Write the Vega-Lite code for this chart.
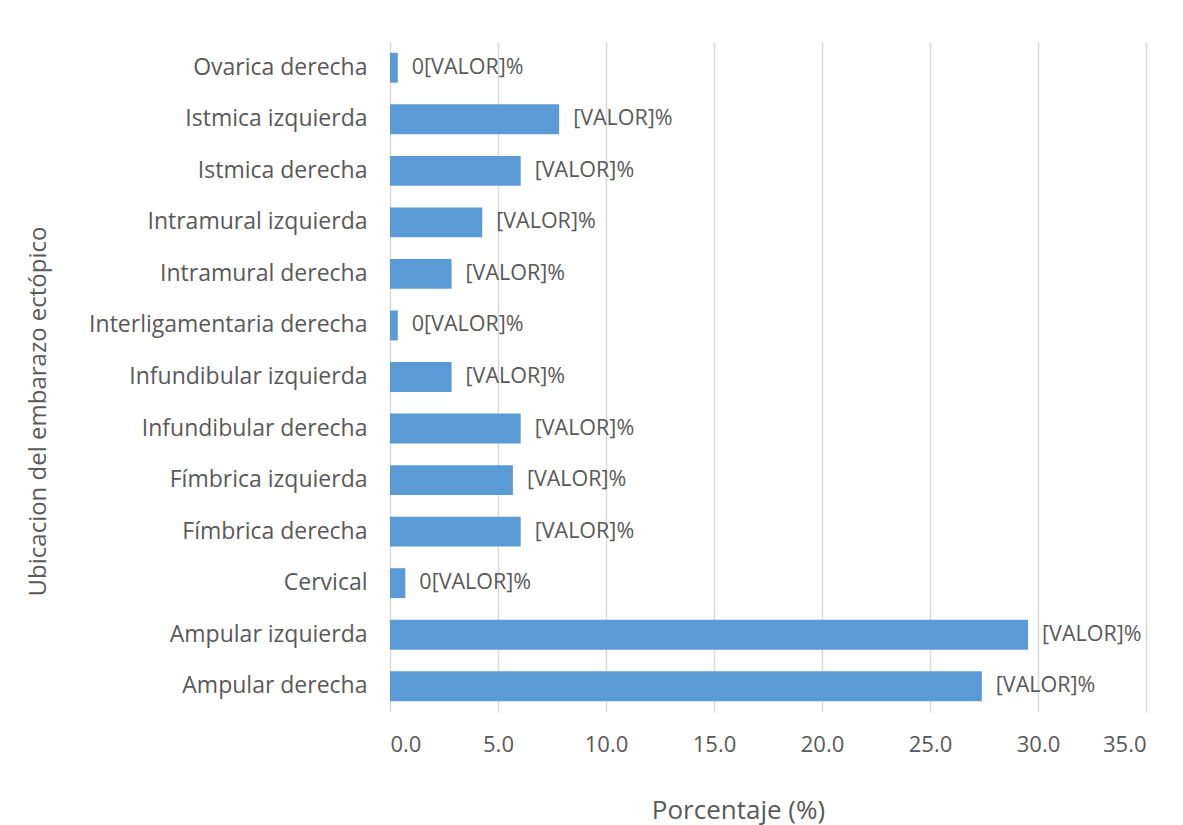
{
  "$schema": "https://vega.github.io/schema/vega-lite/v6.json",
  "width": 756,
  "height": 670,
  "autosize": "none",
  "padding": {"left": 390, "top": 42, "right": 37, "bottom": 113},
  "background": "#ffffff",
  "config": {
    "view": {"stroke": null},
    "font": "Open Sans",
    "axis": {"labelColor": "#595959", "titleColor": "#595959", "titleFontWeight": "normal", "labelFont": "Open Sans", "titleFont": "Open Sans"}
  },
  "data": {
    "values": [
      {"ubicacion": "Ovarica derecha", "porcentaje": 0.36, "etiqueta": "0[VALOR]%"},
      {"ubicacion": "Istmica izquierda", "porcentaje": 7.83, "etiqueta": "[VALOR]%"},
      {"ubicacion": "Istmica derecha", "porcentaje": 6.05, "etiqueta": "[VALOR]%"},
      {"ubicacion": "Intramural izquierda", "porcentaje": 4.27, "etiqueta": "[VALOR]%"},
      {"ubicacion": "Intramural derecha", "porcentaje": 2.85, "etiqueta": "[VALOR]%"},
      {"ubicacion": "Interligamentaria derecha", "porcentaje": 0.36, "etiqueta": "0[VALOR]%"},
      {"ubicacion": "Infundibular izquierda", "porcentaje": 2.85, "etiqueta": "[VALOR]%"},
      {"ubicacion": "Infundibular derecha", "porcentaje": 6.05, "etiqueta": "[VALOR]%"},
      {"ubicacion": "Fímbrica izquierda", "porcentaje": 5.69, "etiqueta": "[VALOR]%"},
      {"ubicacion": "Fímbrica derecha", "porcentaje": 6.05, "etiqueta": "[VALOR]%"},
      {"ubicacion": "Cervical", "porcentaje": 0.71, "etiqueta": "0[VALOR]%"},
      {"ubicacion": "Ampular izquierda", "porcentaje": 29.54, "etiqueta": "[VALOR]%"},
      {"ubicacion": "Ampular derecha", "porcentaje": 27.4, "etiqueta": "[VALOR]%"}
    ]
  },
  "encoding": {
    "y": {
      "field": "ubicacion",
      "type": "nominal",
      "sort": null,
      "scale": {"paddingInner": 0.42, "paddingOuter": 0.21},
      "axis": {
        "title": "Ubicacion del embarazo ectópico",
        "titleFontSize": 24,
        "titleAngle": -90,
        "titleX": -352,
        "titleY": 369,
        "titleAlign": "center",
        "titleBaseline": "middle",
        "labelFontSize": 23,
        "labelPadding": 23,
        "ticks": false,
        "domain": false,
        "labelLimit": 400
      }
    },
    "x": {
      "field": "porcentaje",
      "type": "quantitative",
      "scale": {"domain": [0, 35], "nice": false},
      "axis": {
        "title": "Porcentaje (%)",
        "titleFontSize": 26,
        "titleX": 348,
        "titleY": 98,
        "titleAlign": "center",
        "titleBaseline": "middle",
        "values": [0, 5, 10, 15, 20, 25, 30, 35],
        "format": ".1f",
        "labelFontSize": 22,
        "labelPadding": 22,
        "ticks": false,
        "domain": false,
        "grid": true,
        "gridColor": "#d9d9d9",
        "gridWidth": 1.5
      }
    }
  },
  "layer": [
    {"mark": {"type": "bar", "color": "#5B9BD5"}},
    {
      "mark": {"type": "text", "align": "left", "baseline": "middle", "dx": 14, "fontSize": 21.5, "color": "#595959", "font": "Open Sans"},
      "encoding": {"text": {"field": "etiqueta"}}
    }
  ]
}
